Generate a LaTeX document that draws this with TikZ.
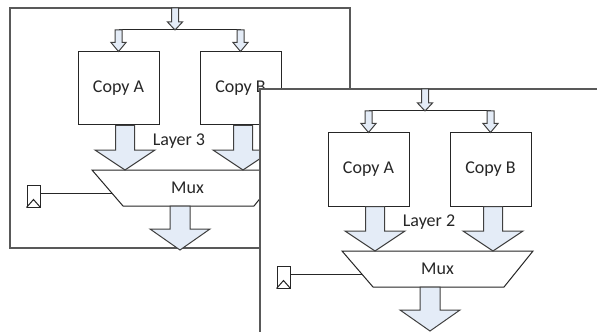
\documentclass[tikz,border=0pt]{standalone}
\usepackage{fontspec}
\setmainfont{Carlito}
\usetikzlibrary{calc}
\usetikzlibrary{positioning}

\definecolor{arrowfill}{RGB}{228,236,247}

\newcommand{\blockarrow}[5]{%
  \path [blockarrow] let \p1 = (#1), \p2 = (#2) in
    (\x1-#3,\y1) -- (\x1+#3,\y1) -- (\x1+#3,\y2+#5) -- (\x1+#4,\y2+#5)
    -- (\x1,\y2) -- (\x1-#4,\y2+#5) -- (\x1-#3,\y2+#5) -- cycle;}

\newcommand{\drawlayer}[4]{%
  \begin{scope}[shift={(#2)}]
    \draw [frame] (0,0) rectangle (#4);
    \node [copybox] (#1copyA) at (108.5,80.5) {Copy A};
    \node [copybox] (#1copyB) at (230.5,80.5) {Copy B};
    \coordinate (#1in)     at (165,0);
    \coordinate (#1split)  at (165,22);
    \coordinate (#1muxTL)  at (82,162);
    \coordinate (#1muxTR)  at (273,162);
    \coordinate (#1muxBR)  at (244,198);
    \coordinate (#1muxBL)  at (113,198);
    \coordinate (#1inA)    at (115,162);
    \coordinate (#1inB)    at (233,162);
    \coordinate (#1muxin)  at (101.8,185);
    \coordinate (#1muxout) at (170,198);
    \coordinate (#1out)    at (170,242);
    \draw [muxbody] (#1muxTL) -- (#1muxTR) -- (#1muxBR) -- (#1muxBL) -- cycle;
    \node (#1mux) at (177.5,180) {Mux};
    \node [regbox] (#1reg) at (23.5,188) {};
    \node (#1label) at (169,133) {#3};
  \end{scope}
  \draw [wire] (#1copyA.north |- #1split) -- (#1copyB.north |- #1split);
  \blockarrow{#1in}{#1split}{1.75pt}{3.75pt}{4pt}
  \blockarrow{#1copyA.north |- #1split}{#1copyA.north}{1.75pt}{3.75pt}{4.5pt}
  \blockarrow{#1copyB.north |- #1split}{#1copyB.north}{1.75pt}{3.75pt}{4.5pt}
  \blockarrow{#1copyA.south -| #1inA}{#1inA}{4.75pt}{15pt}{10pt}
  \blockarrow{#1copyB.south -| #1inB}{#1inB}{4.75pt}{15pt}{10pt}
  \blockarrow{#1muxout}{#1out}{5pt}{15pt}{10.5pt}
  \draw [wire] (#1reg.south west) -- ([yshift=4pt]#1reg.south) -- (#1reg.south east);
  \draw [wire] ([yshift=1.5pt]#1reg.east) -- (#1muxin);
}

\begin{document}
\begin{tikzpicture}[x=0.5pt,y=-0.5pt,
    font=\fontsize{9}{11}\selectfont,
    text=black!85,
    frame/.style={draw=black!65,line width=0.8pt,fill=white},
    copybox/.style={draw=black!85,line width=0.5pt,fill=white,
      minimum width=40.5pt,minimum height=36.5pt,inner sep=0pt},
    regbox/.style={draw=black!85,line width=0.5pt,fill=white,
      minimum width=6.5pt,minimum height=11pt,inner sep=0pt},
    muxbody/.style={draw=black!85,line width=0.5pt,fill=white},
    wire/.style={draw=black!85,line width=0.5pt},
    blockarrow/.style={draw=black!75,line width=0.5pt,fill=arrowfill,line join=miter}]

  \useasboundingbox (0,0) rectangle (597,331);
  \clip (0,0) rectangle (597,331);

  \drawlayer{LthreeX}{10,8}{Layer 3}{340,240}
  \drawlayer{LtwoX}{260,89}{Layer 2}{360,260}

\end{tikzpicture}
\end{document}
